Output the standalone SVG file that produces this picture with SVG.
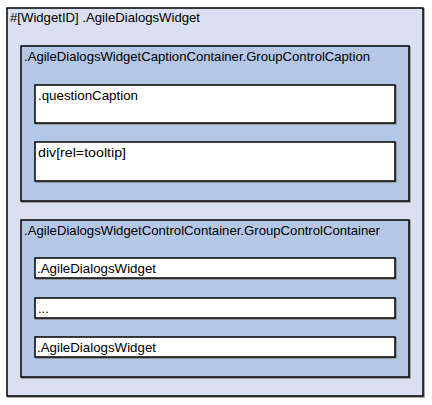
<svg xmlns="http://www.w3.org/2000/svg" width="432" height="405" viewBox="0 0 432 405">
<style>
.sh{fill:none;stroke:#8a8a8a;stroke-width:1.5}
.outer{fill:#dae0f2;stroke:#000;stroke-width:1.5}
.cont{fill:#b4c7e7;stroke:#000;stroke-width:1.5}
.box{fill:#fff;stroke:#000;stroke-width:1.5}
text{font-family:"Liberation Sans",Arial,sans-serif;font-size:13px;fill:#000}
</style>
<rect width="432" height="405" fill="#fff"/>
<g id="widget">
<rect class="sh" x="8" y="9" width="416" height="388"/>
<rect class="outer" x="7" y="8" width="416" height="388"/>
<text x="10" y="22" textLength="190" lengthAdjust="spacingAndGlyphs">#[WidgetID] .AgileDialogsWidget</text>
</g>
<g id="captionContainer">
<rect class="sh" x="22" y="47" width="388" height="155"/>
<rect class="cont" x="21" y="46" width="388" height="155"/>
<text x="24" y="61" textLength="346" lengthAdjust="spacingAndGlyphs">.AgileDialogsWidgetCaptionContainer.GroupControlCaption</text>
</g>
<g id="questionCaption">
<rect class="sh" x="36" y="86" width="360" height="38"/>
<rect class="box" x="35" y="85" width="360" height="38"/>
<text x="38" y="100" textLength="100" lengthAdjust="spacingAndGlyphs">.questionCaption</text>
</g>
<g id="tooltip">
<rect class="sh" x="36" y="143" width="360" height="39"/>
<rect class="box" x="35" y="142" width="360" height="39"/>
<text x="38" y="157" textLength="88" lengthAdjust="spacingAndGlyphs">div[rel=tooltip]</text>
</g>
<g id="controlContainer">
<rect class="sh" x="22" y="221" width="388" height="157"/>
<rect class="cont" x="21" y="220" width="388" height="157"/>
<text x="24" y="235" textLength="356" lengthAdjust="spacingAndGlyphs">.AgileDialogsWidgetControlContainer.GroupControlContainer</text>
</g>
<g id="widget1">
<rect class="sh" x="36" y="259" width="360" height="20"/>
<rect class="box" x="35" y="258" width="360" height="20"/>
<text x="37" y="273" textLength="119" lengthAdjust="spacingAndGlyphs">.AgileDialogsWidget</text>
</g>
<g id="ellipsis">
<rect class="sh" x="36" y="299" width="360" height="20"/>
<rect class="box" x="35" y="298" width="360" height="20"/>
<text x="38" y="313">...</text>
</g>
<g id="widget2">
<rect class="sh" x="36" y="338" width="360" height="20"/>
<rect class="box" x="35" y="337" width="360" height="20"/>
<text x="37" y="352" textLength="119" lengthAdjust="spacingAndGlyphs">.AgileDialogsWidget</text>
</g>
<g id="connectors"/>
</svg>
